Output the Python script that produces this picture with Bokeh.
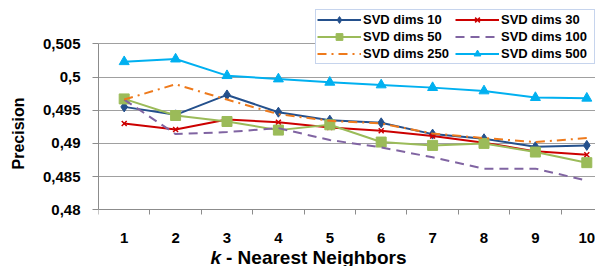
from bokeh.plotting import figure
from bokeh.models import (Range1d, FixedTicker, Legend, LegendItem, Label, LinearAxis)
from bokeh.embed import file_html
from bokeh.resources import INLINE

# ---- data ----
k_values = [1, 2, 3, 4, 5, 6, 7, 8, 9, 10]
svd10 = [0.4955, 0.4943, 0.4973, 0.4947, 0.4935, 0.4931, 0.4914, 0.4907, 0.4895, 0.4897]
svd30 = [0.4930, 0.4921, 0.4936, 0.4932, 0.4924, 0.4919, 0.4911, 0.4901, 0.4888, 0.4883]
svd50 = [0.4967, 0.4942, 0.4933, 0.4920, 0.4928, 0.4902, 0.4897, 0.4900, 0.4887, 0.4871]
svd100 = [0.4966, 0.4914, 0.4917, 0.4923, 0.4905, 0.4894, 0.4879, 0.4862, 0.4862, 0.4844]
svd250 = [0.4966, 0.4989, 0.4966, 0.4944, 0.4934, 0.4930, 0.4915, 0.4908, 0.4902, 0.4908]
svd500 = [0.5023, 0.5027, 0.5002, 0.4997, 0.4992, 0.4988, 0.4984, 0.4979, 0.4969, 0.4968]

series_names = ["SVD dims 10", "SVD dims 30", "SVD dims 50",
                "SVD dims 100", "SVD dims 250", "SVD dims 500"]
y_ticks = [0.48, 0.485, 0.49, 0.495, 0.5, 0.505]
y_tick_labels = ["0,48", "0,485", "0,49", "0,495", "0,5", "0,505"]
x_tick_labels = ["1", "2", "3", "4", "5", "6", "7", "8", "9", "10"]
y_title = "Precision"
x_title_k = "k"
x_title_rest = "- Nearest Neighbors"

FONT = "Liberation Sans"
Y_MIN, Y_MAX = y_ticks[0], y_ticks[-1]
PX = (Y_MAX - Y_MIN) / 166.0          # value per pixel of the plot area
W, H = 595, 266
LEFT = 98
CAT = 51.4                            # pixels per k step

p = figure(width=W, height=H, output_backend="svg", toolbar_location=None,
           x_range=Range1d(0.5, 0.5 + (W - LEFT) / CAT),
           y_range=Range1d(Y_MIN - (H - 209.3) * PX, Y_MAX + 43.3 * PX),
           x_axis_location=None,
           min_border_left=LEFT, min_border_right=0, min_border_top=0,
           min_border_bottom=0)
p.outline_line_color = None
p.background_fill_color = "white"
p.border_fill_color = "white"

# x axis drawn at the bottom of the value range
xa = LinearAxis(fixed_location=Y_MIN)
p.add_layout(xa, "below")
xa.ticker = FixedTicker(ticks=k_values,
                        minor_ticks=[k - 0.5 for k in k_values] + [k_values[-1] + 0.5])
xa.major_label_overrides = {k: lab for k, lab in zip(k_values, x_tick_labels)}
xa.major_tick_out = 0
xa.major_tick_in = 0
xa.minor_tick_out = 5
xa.minor_tick_in = 0
xa.minor_tick_line_color = "#8c8c8c"
xa.axis_line_color = "#8c8c8c"
xa.major_label_standoff = 18
xa.major_label_text_font = FONT
xa.major_label_text_font_style = "bold"
xa.major_label_text_font_size = "15px"
xa.major_label_text_color = "black"

ya = p.yaxis[0]
ya.bounds = (Y_MIN, Y_MAX)
ya.ticker = FixedTicker(ticks=y_ticks, minor_ticks=[])
ya.major_label_overrides = {t: lab for t, lab in zip(y_ticks, y_tick_labels)}
ya.major_tick_out = 6
ya.major_tick_in = 0
ya.major_tick_line_color = "#8c8c8c"
ya.axis_line_color = "#8c8c8c"
ya.major_label_standoff = 12
ya.major_label_text_font = FONT
ya.major_label_text_font_style = "bold"
ya.major_label_text_font_size = "15px"
ya.major_label_text_color = "black"
ya.axis_label = y_title
ya.axis_label_text_font = FONT
ya.axis_label_text_font_style = "bold"
ya.axis_label_text_font_size = "16px"
ya.axis_label_text_color = "black"
ya.axis_label_standoff = 13

p.xgrid.grid_line_color = None
p.ygrid.ticker = FixedTicker(ticks=y_ticks)
p.ygrid.grid_line_color = "#a0a0a0"
p.ygrid.grid_line_width = 1

# series
styles = [
    dict(data=svd10, color="#24508C", dash="solid", marker="diamond", size=10),
    dict(data=svd30, color="#CC0000", dash="solid", marker="x", size=7),
    dict(data=svd50, color="#9BBB59", dash="solid", marker="square", size=10),
    dict(data=svd100, color="#8064A2", dash="9 6", marker=None, size=0),
    dict(data=svd250, color="#EE7A1C", dash="9 5 2 5", marker=None, size=0),
    dict(data=svd500, color="#00B0F0", dash="solid", marker="triangle", size=10),
]

items = {}
for name, st in zip(series_names, styles):
    rs = [p.line(k_values, st["data"], line_color=st["color"], line_width=2,
                 line_dash=st["dash"])]
    if st["marker"] is not None:
        if st["marker"] == "x":
            rs.append(p.scatter(k_values, st["data"], marker="x", size=st["size"],
                                line_color=st["color"], line_width=1.5))
        else:
            rs.append(p.scatter(k_values, st["data"], marker=st["marker"],
                                size=st["size"], fill_color=st["color"],
                                line_color=st["color"]))
    items[name] = LegendItem(label=name, renderers=rs)

# legend fills column by column: left column 10/50/250, right column 30/100/500
legend_order = [0, 2, 4, 1, 3, 5]
legend = Legend(items=[items[series_names[i]] for i in legend_order],
                location=(217, 202), ncols=2,
                orientation="vertical",
                label_text_font=FONT, label_text_font_style="bold",
                label_text_font_size="13px", label_text_color="black",
                glyph_width=44, glyph_height=17, label_height=17,
                label_width=92, label_standoff=2, padding=1, spacing=0, margin=0,
                border_line_color="#8eaadb", border_line_width=1.2,
                background_fill_color="white", background_fill_alpha=1.0)
p.add_layout(legend, "center")

# x-axis title with italic k
p.add_layout(Label(x=112, y=9, x_units="screen", y_units="screen",
                   text=x_title_k, text_font=FONT, text_font_style="bold italic",
                   text_font_size="19px", text_color="black",
                   text_baseline="alphabetic", text_align="left"))
p.add_layout(Label(x=127.5, y=9, x_units="screen", y_units="screen",
                   text=x_title_rest, text_font=FONT, text_font_style="bold",
                   text_font_size="19px", text_color="black",
                   text_baseline="alphabetic", text_align="left"))

open("out.html", "w").write(file_html(p, INLINE))
